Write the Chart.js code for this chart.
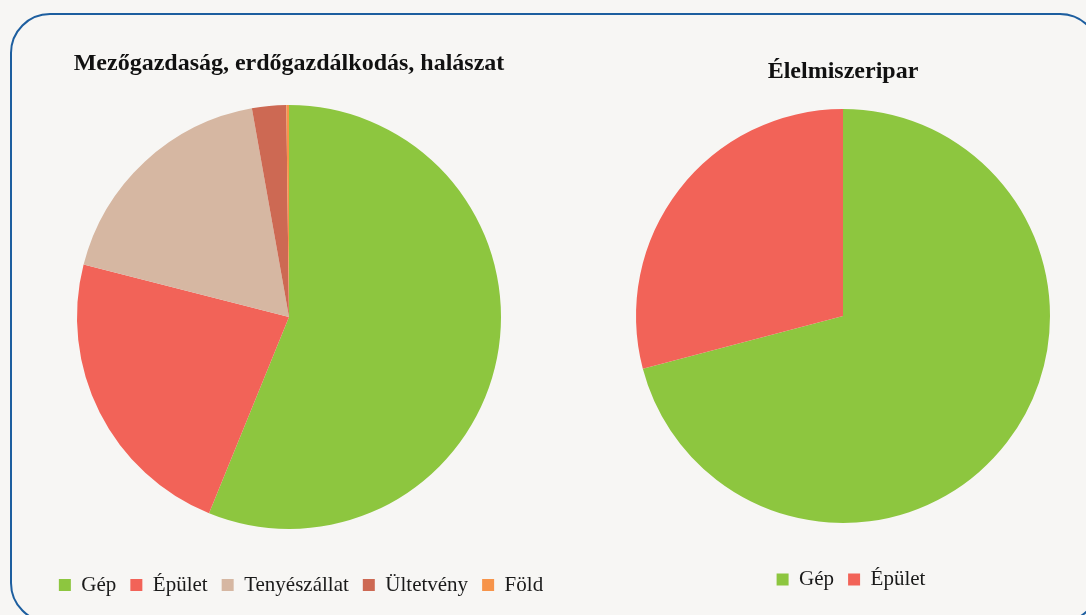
<!DOCTYPE html>
<html>
<head>
<meta charset="utf-8">
<script src="https://cdn.jsdelivr.net/npm/chart.js@4"></script>
<style>
  html, body { margin: 0; padding: 0; background: #F7F6F4; overflow: hidden; }
  #wrap { position: relative; width: 1086px; height: 615px; overflow: hidden; }
  #frame {
    position: absolute; left: 10px; top: 13px; width: 1086px; height: 606px;
    border: 2px solid #1D5E9F; border-radius: 40px;
  }
  canvas { position: absolute; top: 0; }
  #agri { left: 19px; }
  #food { left: 613px; }
</style>
</head>
<body>
<div id="wrap">
  <div id="frame"></div>
  <canvas id="agri" width="540" height="615"></canvas>
  <canvas id="food" width="460" height="615"></canvas>
</div>
<script>
// adatok
const agriLabels = ['Gép', 'Épület', 'Tenyészállat', 'Ültetvény', 'Föld'];
const agriValues = [56.1, 22.8, 18.2, 2.6, 0.2];
const agriColors = ['#8DC63F', '#F26358', '#D6B7A2', '#CD6953', '#F7944A'];

const foodLabels = ['Gép', 'Épület'];
const foodValues = [70.9, 29.1];
const foodColors = ['#8DC63F', '#F26358'];

Chart.defaults.font.family = "'Liberation Serif', 'DejaVu Serif', serif";
Chart.defaults.color = '#1a1a1a';

// a jelmagyarázat kicsit jobbra tolva, mint az eredetin
const legendShift = {
    id: 'legendShift',
    afterLayout(chart, args, opts) {
        chart.legend.left += opts.dx;
        chart.legend.right += opts.dx;
    }
};

function makePie(id, title, labels, values, colors, o) {
    const ctx = document.getElementById(id);
    return new Chart(ctx, {
        type: 'pie',
        data: {
            labels: labels,
            datasets: [{
                data: values,
                backgroundColor: colors,
                borderWidth: 0,
            }],
        },
        plugins: [legendShift],
        options: {
            responsive: false,
            devicePixelRatio: 1,
            animation: false,
            radius: o.radius,
            layout: {
                padding: { top: 0, bottom: o.bottom, left: 0, right: 0 }
            },
            plugins: {
                tooltip: { enabled: false },
                legendShift: { dx: o.dx },
                title: {
                    display: true,
                    text: title,
                    color: '#111',
                    font: { size: 24, weight: 'bold', lineHeight: 0 },
                    padding: { top: o.titleTop, bottom: o.titleBottom }
                },
                legend: {
                    position: 'bottom',
                    labels: {
                        boxWidth: 12,
                        boxHeight: 12,
                        padding: 14,
                        color: '#1a1a1a',
                        font: { size: 21 }
                    }
                }
            }
        }
    });
}

makePie('agri', 'Mezőgazdaság, erdőgazdálkodás, halászat', agriLabels, agriValues, agriColors,
    { radius: 212, titleTop: 64, titleBottom: 9.5, bottom: 9.5, dx: 12 });
makePie('food', 'Élelmiszeripar', foodLabels, foodValues, foodColors,
    { radius: 207, titleTop: 72, titleBottom: 5, bottom: 15, dx: 8 });
</script>
</body>
</html>
